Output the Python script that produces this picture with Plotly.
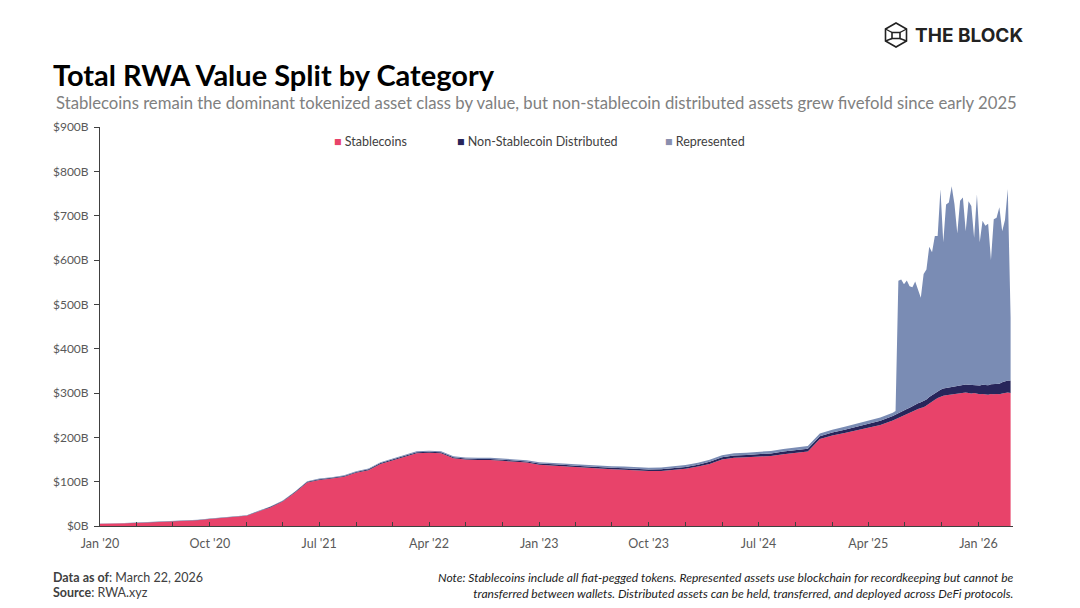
import pandas as pd
import plotly.graph_objects as go

# monthly points Jan 2020 - May 2025, weekly points Jun 2025 - Mar 22 2026
monthly_dates = pd.date_range('2020-01-01', '2025-05-01', freq='MS')
weekly_dates = pd.date_range('2025-06-01', '2026-03-22', freq='7D')
dates = list(monthly_dates) + list(weekly_dates)

# values in $B
stablecoins_monthly = [
    5, 5, 6, 7, 8, 9, 10, 11, 13, 16, 18, 20,
    23, 33, 42, 55, 75, 98, 104, 107, 111, 120, 126, 140,
    148, 156, 164, 165, 164, 153, 150, 149, 149, 147, 145, 143,
    138, 137, 135, 133, 131, 129, 128, 127, 125, 124, 124, 126,
    129, 134, 140, 150, 154, 155, 157, 158, 162, 165, 168, 196,
    204, 210, 216, 221, 228,
]
stablecoins_weekly = [
    238, 241, 244, 246, 249, 252, 255, 258, 261, 264, 266, 268, 272, 277,
    281, 285, 289, 292, 294, 295, 296, 297, 298, 299, 300, 300, 301, 300,
    299, 300, 298, 297, 298, 297, 296, 298, 297, 298, 297, 299, 300, 301, 300,
]

distributed_monthly = [
    0.3, 0.3, 0.3, 0.4, 0.4, 0.4, 0.5, 0.5, 0.6, 0.6, 0.7, 0.8,
    0.9, 1.0, 1.2, 1.4, 1.5, 1.6, 1.7, 1.8, 1.9, 2.0, 2.1, 2.2,
    2.3, 2.4, 2.5, 2.6, 2.4, 2.3, 2.3, 2.4, 2.4, 2.5, 2.5, 2.6,
    2.7, 2.8, 2.9, 3.0, 3.1, 3.2, 3.3, 3.4, 3.5, 3.6, 3.8, 4.0,
    4.2, 4.4, 4.7, 5.0, 5.2, 5.4, 5.6, 5.8, 6.0, 6.2, 6.4, 6.6,
    6.8, 7.2, 7.8, 8.5, 9.5,
]
distributed_weekly = [
    10, 10.5, 11, 11, 11.5, 12, 12, 12.5, 12.5, 13, 13, 13.5, 13.5, 14,
    14.5, 15, 15, 15.5, 16, 16, 16.5, 16.5, 17, 17, 17.5, 18, 18, 18.5,
    19, 19, 19.5, 20, 20.5, 21, 21.5, 22, 23, 23.5, 24, 25, 26, 27, 28,
]

represented_monthly = [
    0.2, 0.2, 0.3, 0.3, 0.3, 0.4, 0.4, 0.4, 0.5, 0.5, 0.5, 0.6,
    0.6, 0.7, 0.8, 0.9, 1.0, 1.1, 1.2, 1.3, 1.4, 1.5, 1.6, 1.7,
    1.8, 1.9, 2.0, 2.1, 2.2, 2.3, 2.4, 2.5, 2.6, 2.7, 2.8, 2.9,
    3.0, 3.1, 3.2, 3.3, 3.4, 3.5, 3.6, 3.7, 3.8, 3.9, 4.0, 4.1,
    4.2, 4.3, 4.5, 4.7, 4.9, 5.1, 5.3, 5.5, 5.7, 5.9, 6.1, 6.3,
    6.5, 6.7, 6.9, 7.1, 7.3,
]
represented_weekly = [
    7.5, 7.8, 298, 299, 285, 290, 274, 268, 278, 258, 236, 287, 293, 339,
    322, 354, 350, 452, 330, 414, 417, 453, 411, 344, 416, 423, 346, 414,
    404, 331, 430, 323, 370, 359, 364, 280, 372, 374, 398, 341, 364, 432, 142,
]

stablecoins = stablecoins_monthly + stablecoins_weekly
distributed = distributed_monthly + distributed_weekly
represented = represented_monthly + represented_weekly

tick_dates = pd.date_range('2020-01-01', '2026-01-01', freq='QS')
tick_labels = [d.strftime("%b '%y") if i % 3 == 0 else '' for i, d in enumerate(tick_dates)]

# the page puts the figure ~7px in from the top left corner, so work in
# screen pixels and shift back by that amount
OFF = 7
L, R, T, B = 99 - OFF, 1012 - OFF, 126 - OFF, 525 - OFF


def px(x):
    return (x - OFF - L) / (R - L)


def py(y):
    return (B - (y - OFF)) / (B - T)


fig = go.Figure()
fig.add_trace(go.Scatter(x=dates, y=stablecoins, name='Stablecoins', stackgroup='rwa',
                         mode='lines', line=dict(width=0, color='#E8436A'), fillcolor='#E8436A'))
fig.add_trace(go.Scatter(x=dates, y=distributed, name='Non-Stablecoin Distributed', stackgroup='rwa',
                         mode='lines', line=dict(width=0, color='#27255A'), fillcolor='#27255A'))
fig.add_trace(go.Scatter(x=dates, y=represented, name='Represented', stackgroup='rwa',
                         mode='lines', line=dict(width=0, color='#7A8CB4'), fillcolor='#7A8CB4'))

grey = '#595959'


def note(x, y, text, size, color='#404040', family='Lato', xanchor='left', align='left'):
    return dict(x=px(x), y=py(y), xref='paper', yref='paper', text=text, showarrow=False,
                xanchor=xanchor, yanchor='middle', align=align,
                font=dict(family=family, size=size, color=color))


annotations = [
    note(50, 73, '<b>Total RWA Value Split by Category</b>', 29, '#000000'),
    note(53, 102, 'Stablecoins remain the dominant tokenized asset class by value, '
         'but non-stablecoin distributed assets grew fivefold since early 2025', 16.7, '#808080'),
    note(912, 34, '<b>THE BLOCK</b>', 19, '#222222', family='Inter'),
    note(50, 576, '<b>Data as of</b>: March 22, 2026', 12.5),
    note(50, 591, '<b>Source</b>: RWA.xyz', 12.5),
    note(1015, 584, '<i>Note: Stablecoins include all fiat-pegged tokens. Represented assets use blockchain for '
         'recordkeeping but cannot be<br>transferred between wallets. Distributed assets can be held, '
         'transferred, and deployed across DeFi protocols.</i>', 12.1, '#222222', xanchor='right',
         align='right'),
]
legend_items = [('Stablecoins', '#E8436A', 331), ('Non-Stablecoin Distributed', '#27255A', 454),
                ('Represented', '#8A8FAE', 662)]
for name, color, x0 in legend_items:
    annotations.append(note(x0, 140, f"<span style='color:{color}'>■</span> {name}", 12.5))

# cube logo
hexagon = [(895, 22), (905.5, 28), (905.5, 40), (895, 46), (884.5, 40), (884.5, 28)]
hex_path = 'M ' + ' L '.join(f'{px(a)},{py(b)}' for a, b in hexagon) + ' Z'
sq = [(891, 31.5), (899, 31.5), (899, 37.5), (891, 37.5)]
sq_path = 'M ' + ' L '.join(f'{px(a)},{py(b)}' for a, b in sq) + ' Z'
shapes = [
    dict(type='path', xref='paper', yref='paper', path=hex_path, line=dict(color='#222222', width=1.6)),
    dict(type='path', xref='paper', yref='paper', path=sq_path, line=dict(color='#222222', width=1.6)),
]
for (a, b), (c, d) in zip(sq, [(884.5, 28), (905.5, 28), (905.5, 40), (884.5, 40)]):
    shapes.append(dict(type='line', xref='paper', yref='paper', x0=px(a), y0=py(b), x1=px(c), y1=py(d),
                       line=dict(color='#222222', width=1.4)))

fig.update_layout(
    width=1080, height=608,
    margin=dict(l=L, r=1080 - R, t=T, b=608 - B),
    paper_bgcolor='white', plot_bgcolor='white',
    showlegend=False,
    hovermode=False,
    font=dict(family='Lato', size=12, color=grey),
    annotations=annotations,
    shapes=shapes,
    xaxis=dict(range=['2020-01-01', '2026-03-28'], tickvals=tick_dates, ticktext=tick_labels,
               ticks='inside', ticklen=4, tickcolor='#404040', showgrid=False, zeroline=False,
               showline=True, linecolor='#404040', linewidth=1, ticklabelstandoff=6,
               tickfont=dict(size=12.5, color=grey)),
    yaxis=dict(range=[0, 900], dtick=100, tickprefix='$', ticksuffix='B', ticks='outside', ticklen=5,
               tickcolor='#404040', showgrid=False, zeroline=False, showline=True, linecolor='#404040',
               linewidth=1, ticklabelstandoff=3, tickfont=dict(size=12, color=grey)),
)

fig.write_html('out.html')
